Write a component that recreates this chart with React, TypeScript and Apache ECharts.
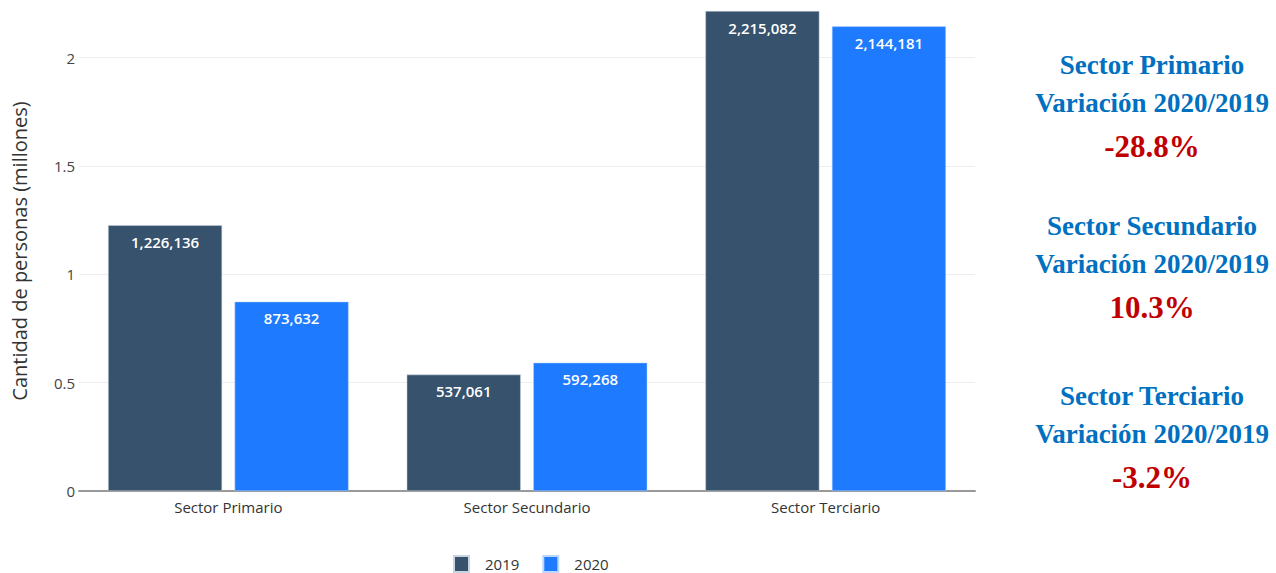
import React, { useEffect, useRef } from "react";
import * as echarts from "echarts";

const categories = ["Sector Primario", "Sector Secundario", "Sector Terciario"];
const seriesNames = ["2019", "2020"];
const values2019 = [1226136, 537061, 2215082];
const values2020 = [873632, 592268, 2144181];
const yTicks = [0, 0.5, 1, 1.5, 2];
const sideTitles = ["Sector Primario", "Sector Secundario", "Sector Terciario"];
const sideSubtitle = "Variación 2020/2019";
const sideChanges = ["-28.8%", "10.3%", "-3.2%"];

const colors = ["#37526D", "#1E7BFF"];

export default function App() {
  const ref = useRef<HTMLDivElement>(null);
  useEffect(() => {
    if (!ref.current) return;
    const chart = echarts.init(ref.current, undefined, { renderer: "svg" });
    const fmt = (p: any) => Math.round(p.value * 1e6).toLocaleString("en-US");
    const label = {
      show: true,
      position: "insideTop",
      distance: 9,
      color: "#ffffff",
      fontSize: 15,
      fontWeight: 600,
      fontFamily: "Open Sans",
      formatter: fmt,
    };
    const blockTops = [65, 226, 396];
    const graphics: any[] = [];
    blockTops.forEach((t, i) => {
      graphics.push({
        type: "text",
        x: 1152,
        y: t,
        style: {
          text: sideTitles[i],
          font: "bold 27px 'Liberation Serif'",
          fill: "#0070C0",
          textAlign: "center",
          textVerticalAlign: "middle",
        },
      });
      graphics.push({
        type: "text",
        x: 1152,
        y: t + 38,
        style: {
          text: sideSubtitle,
          font: "bold 27px 'Liberation Serif'",
          fill: "#0070C0",
          textAlign: "center",
          textVerticalAlign: "middle",
        },
      });
      graphics.push({
        type: "text",
        x: 1152,
        y: t + 81,
        style: {
          text: sideChanges[i],
          font: "bold 31px 'Liberation Serif'",
          fill: "#C00000",
          textAlign: "center",
          textVerticalAlign: "middle",
        },
      });
    });
    chart.setOption({
      animation: false,
      backgroundColor: "#ffffff",
      color: colors,
      grid: {
        left: 79,
        right: 301,
        top: 11,
        bottom: 82,
        containLabel: false,
        outerBoundsMode: "none",
      },
      legend: {
        data: seriesNames,
        left: 448,
        top: 550,
        icon: "rect",
        itemWidth: 15,
        itemHeight: 16,
        itemGap: 23,
        textStyle: {
          color: "#333",
          fontSize: 15,
          fontFamily: "Open Sans",
          padding: [0, 0, 0, 11],
        },
      },
      xAxis: {
        type: "category",
        data: categories,
        axisLine: { show: true, lineStyle: { color: "#999", width: 2 } },
        axisTick: { show: false },
        axisLabel: { color: "#333", fontSize: 15, fontFamily: "Open Sans", margin: 8 },
      },
      yAxis: {
        type: "value",
        min: 0,
        max: values2019[2] / 1e6,
        interval: 0.5,
        name: "Cantidad de personas (millones)",
        nameLocation: "middle",
        nameGap: 50,
        nameTextStyle: { color: "#333", fontSize: 20, fontFamily: "Open Sans" },
        axisLine: { show: false },
        axisTick: { show: false },
        splitLine: { showMaxLine: false, lineStyle: { color: "#eeeeee", width: 1 } },
        axisLabel: {
          color: "#444",
          fontSize: 15,
          fontFamily: "Open Sans",
          margin: 4,
          showMaxLabel: false,
          formatter: (v: number) => (yTicks.includes(v) ? String(v) : ""),
        },
      },
      series: [
        {
          name: seriesNames[0],
          type: "bar",
          data: values2019.map((v) => v / 1e6),
          barWidth: 114,
          barGap: "11%",
          itemStyle: { color: colors[0], borderColor: "#c8d4e0", borderWidth: 0.5 },
          label,
        },
        {
          name: seriesNames[1],
          type: "bar",
          data: values2020.map((v) => v / 1e6),
          barWidth: 114,
          barGap: "11%",
          itemStyle: { color: colors[1], borderColor: "#bcd6ff", borderWidth: 0.5 },
          label,
        },
      ],
      graphic: graphics,
    });
    return () => chart.dispose();
  }, []);
  return (
    <div
      ref={ref}
      style={{ position: "fixed", left: 0, top: 0, width: 1276, height: 573 }}
    />
  );
}
